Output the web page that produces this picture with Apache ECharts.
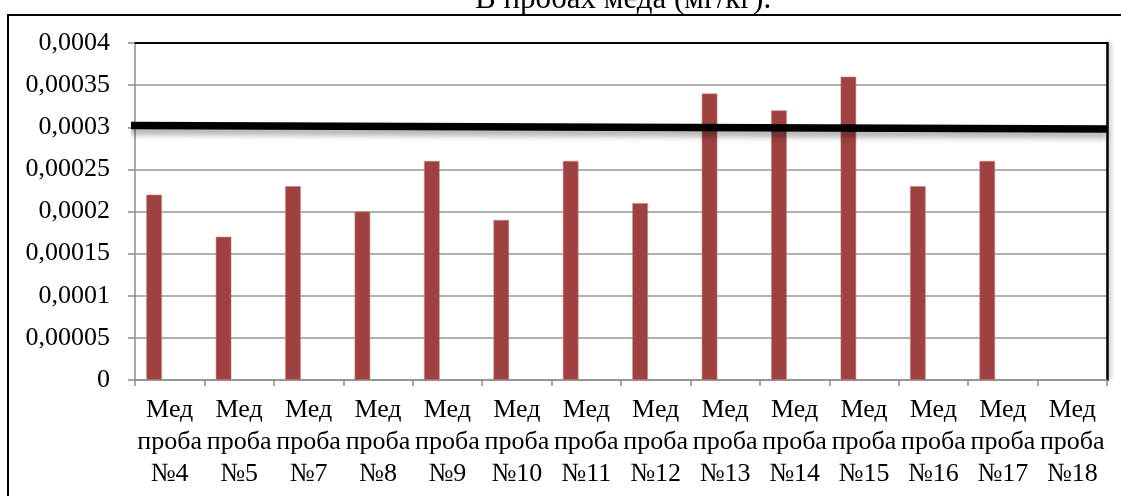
<!DOCTYPE html>
<html>
<head>
<meta charset="utf-8">
<script src="https://cdn.jsdelivr.net/npm/echarts@6/dist/echarts.min.js"></script>
<style>
html,body{margin:0;padding:0;background:#fff;}
#c{width:1121px;height:496px;}
</style>
</head>
<body>
<div id="c"></div>
<script>
const titleText = 'В пробах меда (мг/кг).';
const categories = ['Мед\nпроба\n№4','Мед\nпроба\n№5','Мед\nпроба\n№7','Мед\nпроба\n№8','Мед\nпроба\n№9','Мед\nпроба\n№10','Мед\nпроба\n№11','Мед\nпроба\n№12','Мед\nпроба\n№13','Мед\nпроба\n№14','Мед\nпроба\n№15','Мед\nпроба\n№16','Мед\nпроба\n№17','Мед\nпроба\n№18'];
const values = [0.00022,0.00017,0.00023,0.0002,0.00026,0.00019,0.00026,0.00021,0.00034,0.00032,0.00036,0.00023,0.00026,null];
const emptyA = [null,null,null,null,null,null,null,null,null,null,null,null,null,null];
const emptyB = [null,null,null,null,null,null,null,null,null,null,null,null,null,null];
const yMin = 0, yMax = 0.0004, yInterval = 0.00005;
const refLineX = [-0.006, 1];
const refLineY = [0.000302, 0.000298];

const font = 'Liberation Serif';
const chart = echarts.init(document.getElementById('c'));
chart.setOption({
  animation: false,
  backgroundColor: '#fff',
  title: {
    text: titleText,
    left: 470, top: -21,
    textStyle: {fontFamily: font, fontSize: 31, fontWeight: 'normal', color: '#000', lineHeight: 31}
  },
  graphic: [{
    type: 'rect', shape: {x: 8, y: 15, width: 1300, height: 700},
    style: {fill: '#fff', stroke: '#000', lineWidth: 2}, silent: true, z: -1
  }],
  grid: {left: 135, top: 43, right: 14, bottom: 116, containLabel: false},
  xAxis: [{
    type: 'category', data: categories, position: 'bottom',
    axisLine: {lineStyle: {color: '#8c8c8c', width: 1.5}},
    axisTick: {show: true, length: 6, lineStyle: {color: '#8c8c8c', width: 1.5}},
    axisLabel: {fontFamily: font, fontSize: 26, color: '#000', lineHeight: 32, margin: 14, interval: 0},
    splitLine: {show: false}
  }, {
    type: 'value', min: 0, max: 1, position: 'top',
    axisLine: {show: true, onZero: false, lineStyle: {color: '#000', width: 2}},
    axisTick: {show: false}, axisLabel: {show: false}, splitLine: {show: false}
  }],
  yAxis: [{
    type: 'value', min: yMin, max: yMax, interval: yInterval,
    axisLine: {show: true, lineStyle: {color: '#8c8c8c', width: 1.5}},
    axisTick: {show: true, length: 7, lineStyle: {color: '#8c8c8c', width: 1.5}},
    axisLabel: {fontFamily: font, fontSize: 26, color: '#000', margin: 25,
      formatter: v => String(+v.toFixed(6)).replace('.', ',')},
    splitLine: {show: true, lineStyle: {color: '#969696', width: 1.5}}
  }, {
    type: 'value', min: yMin, max: yMax, position: 'right',
    axisLine: {show: true, onZero: false, lineStyle: {color: '#000', width: 2.5, shadowColor: 'rgba(0,0,0,0.3)', shadowBlur: 4, shadowOffsetX: 2}},
    axisTick: {show: false}, axisLabel: {show: false}, splitLine: {show: false}
  }],
  series: [{
    type: 'bar', data: values, barWidth: 15.6, barGap: '0%',
    itemStyle: {color: '#9e4140', borderColor: '#c88584', borderWidth: 0.6}
  }, {
    type: 'bar', data: emptyA, barWidth: 15.6, barGap: '0%'
  }, {
    type: 'bar', data: emptyB, barWidth: 15.6, barGap: '0%'
  }, {
    type: 'line', xAxisIndex: 1, yAxisIndex: 0, clip: false, symbol: 'none', z: 5,
    data: refLineX.map((x, i) => [x, refLineY[i]]),
    lineStyle: {color: '#000', width: 7.5, shadowColor: 'rgba(0,0,0,0.35)', shadowBlur: 6, shadowOffsetY: 5}
  }]
});
</script>
</body>
</html>
